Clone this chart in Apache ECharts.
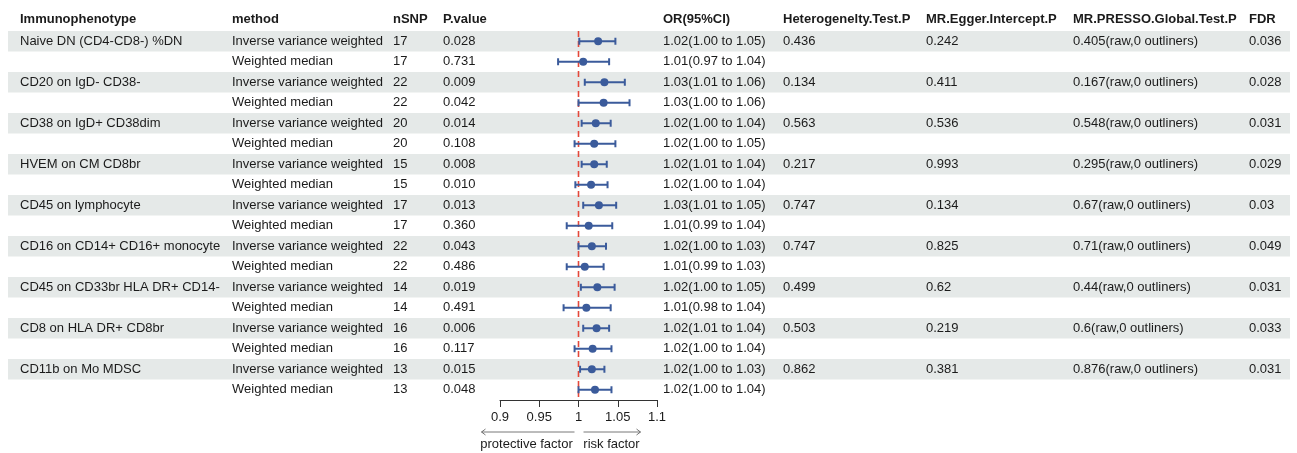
<!DOCTYPE html>
<html>
<head>
<meta charset="utf-8">
<title>MR forest plot</title>
<script src="https://cdn.jsdelivr.net/npm/echarts@6/dist/echarts.min.js"></script>
<style>
html, body { margin: 0; padding: 0; background: #fff; }
#chart { width: 1297px; height: 453px; }
</style>
</head>
<body>
<div id="chart"></div>
<script>
// 表头
const headers = ['Immunophenotype', 'method', 'nSNP', 'P.value', 'OR(95%CI)',
  'Heterogenelty.Test.P', 'MR.Egger.Intercept.P', 'MR.PRESSO.Global.Test.P', 'FDR']

// 每行数据（18 行，IVW / WM 交替）
const phenotypes = [
  'Naive DN (CD4-CD8-) %DN', '', 'CD20 on IgD- CD38-', '', 'CD38 on IgD+ CD38dim', '',
  'HVEM on CM CD8br', '', 'CD45 on lymphocyte', '', 'CD16 on CD14+ CD16+ monocyte', '',
  'CD45 on CD33br HLA DR+ CD14-', '', 'CD8 on HLA DR+ CD8br', '', 'CD11b on Mo MDSC', ''
]
const methods = Array.from({ length: 18 }, (_, i) => i % 2 === 0 ? 'Inverse variance weighted' : 'Weighted median')
const nSNP = ['17', '17', '22', '22', '20', '20', '15', '15', '17', '17', '22', '22', '14', '14', '16', '16', '13', '13']
const pValues = ['0.028', '0.731', '0.009', '0.042', '0.014', '0.108', '0.008', '0.010', '0.013', '0.360',
  '0.043', '0.486', '0.019', '0.491', '0.006', '0.117', '0.015', '0.048']
const orText = [
  '1.02(1.00 to 1.05)', '1.01(0.97 to 1.04)', '1.03(1.01 to 1.06)', '1.03(1.00 to 1.06)',
  '1.02(1.00 to 1.04)', '1.02(1.00 to 1.05)', '1.02(1.01 to 1.04)', '1.02(1.00 to 1.04)',
  '1.03(1.01 to 1.05)', '1.01(0.99 to 1.04)', '1.02(1.00 to 1.03)', '1.01(0.99 to 1.03)',
  '1.02(1.00 to 1.05)', '1.01(0.98 to 1.04)', '1.02(1.01 to 1.04)', '1.02(1.00 to 1.04)',
  '1.02(1.00 to 1.03)', '1.02(1.00 to 1.04)'
]
const heteroP = ['0.436', '', '0.134', '', '0.563', '', '0.217', '', '0.747', '', '0.747', '', '0.499', '', '0.503', '', '0.862', '']
const eggerP = ['0.242', '', '0.411', '', '0.536', '', '0.993', '', '0.134', '', '0.825', '', '0.62', '', '0.219', '', '0.381', '']
const pressoP = [
  '0.405(raw,0 outliners)', '', '0.167(raw,0 outliners)', '', '0.548(raw,0 outliners)', '',
  '0.295(raw,0 outliners)', '', '0.67(raw,0 outliners)', '', '0.71(raw,0 outliners)', '',
  '0.44(raw,0 outliners)', '', '0.6(raw,0 outliners)', '', '0.876(raw,0 outliners)', ''
]
const fdr = ['0.036', '', '0.028', '', '0.031', '', '0.029', '', '0.03', '', '0.049', '', '0.031', '', '0.033', '', '0.031', '']

// 森林图数值
const orValue = [1.025, 1.006, 1.033, 1.032, 1.022, 1.020, 1.020, 1.016, 1.026, 1.013, 1.017, 1.008, 1.024, 1.010, 1.023, 1.018, 1.017, 1.021]
const ciLow = [1.001, 0.974, 1.008, 1.000, 1.004, 0.995, 1.004, 0.996, 1.006, 0.985, 1.000, 0.985, 1.003, 0.981, 1.006, 0.995, 1.002, 1.000]
const ciHigh = [1.047, 1.039, 1.059, 1.065, 1.041, 1.047, 1.036, 1.037, 1.048, 1.043, 1.035, 1.032, 1.046, 1.041, 1.039, 1.042, 1.033, 1.042]
const nullOR = 1

// 布局
const columns = [phenotypes, methods, nSNP, pValues, orText, heteroP, eggerP, pressoP, fdr]
const colX = [20, 232, 393, 443, 663, 783, 926, 1073, 1249]
const FONT = 'Arial, "Liberation Sans", Helvetica, sans-serif'
const TEXT_COLOR = '#1b1b1b'
const BLUE = '#3b5b9b'
const rows = phenotypes.map((_, i) => 'r' + i)

const chart = echarts.init(document.getElementById('chart'))

function renderTable(params, api) {
  const i = api.value(1)
  const y = api.coord([0, i])[1]
  const h = api.size([0, 1])[1]
  const children = []
  if (i % 2 === 0) {
    const x0 = api.coord([8, i])[0]
    const x1 = api.coord([1290, i])[0]
    children.push({
      type: 'rect',
      shape: { x: x0, y: y - h / 2, width: x1 - x0, height: h },
      style: { fill: '#e5e9e8' }
    })
  }
  columns.forEach((col, c) => {
    if (!col[i]) return
    children.push({
      type: 'text',
      x: colX[c],
      y: y,
      style: {
        text: col[i], fill: TEXT_COLOR, fontSize: 13, fontFamily: FONT,
        align: 'left', verticalAlign: 'middle'
      }
    })
  })
  return { type: 'group', children }
}

function renderForest(params, api) {
  const row = api.value(3)
  const p = api.coord([api.value(0), row])
  const l = api.coord([api.value(1), row])
  const r = api.coord([api.value(2), row])
  const cap = 3.5
  const style = { stroke: BLUE, lineWidth: 2 }
  return {
    type: 'group',
    children: [
      { type: 'line', shape: { x1: l[0], y1: l[1], x2: r[0], y2: r[1] }, style },
      { type: 'line', shape: { x1: l[0], y1: l[1] - cap, x2: l[0], y2: l[1] + cap }, style },
      { type: 'line', shape: { x1: r[0], y1: r[1] - cap, x2: r[0], y2: r[1] + cap }, style },
      { type: 'circle', shape: { cx: p[0], cy: p[1], r: 4 }, style: { fill: BLUE } }
    ]
  }
}

// OR=1 参考虚线，贯穿整个绘图区
function renderNullLine(params, api) {
  const cs = params.coordSys
  const x = api.coord([api.value(0), 0])[0]
  return {
    type: 'line',
    shape: { x1: x, y1: cs.y, x2: x, y2: cs.y + cs.height },
    style: { stroke: '#e4483a', lineWidth: 1.6, lineDash: [6, 4] }
  }
}

const headerGraphics = headers.map((h, c) => ({
  type: 'text',
  x: colX[c],
  y: 19,
  style: {
    text: h, fill: TEXT_COLOR, fontSize: 13, fontWeight: 'bold', fontFamily: FONT,
    align: 'left', verticalAlign: 'middle'
  }
}))

const option = {
  animation: false,
  grid: [
    { left: 0, right: 0, top: 31, height: 369 },
    { left: 500, width: 157, top: 31, height: 369 }
  ],
  xAxis: [
    { gridIndex: 0, type: 'value', min: 0, max: 1297, show: false },
    {
      gridIndex: 1, type: 'value', min: 0.9, max: 1.1, interval: 0.05,
      splitLine: { show: false },
      axisLine: { show: true, lineStyle: { color: '#333', width: 1 } },
      axisTick: { show: true, length: 7, lineStyle: { color: '#333', width: 1 } },
      axisLabel: {
        color: TEXT_COLOR, fontSize: 13, fontFamily: FONT, margin: 11,
        formatter: v => String(Number(v.toFixed(2)))
      }
    }
  ],
  yAxis: [
    { gridIndex: 0, type: 'category', data: rows, inverse: true, show: false },
    { gridIndex: 1, type: 'category', data: rows, inverse: true, show: false }
  ],
  series: [
    {
      type: 'custom',
      xAxisIndex: 0, yAxisIndex: 0,
      z: 1,
      silent: true,
      renderItem: renderTable,
      encode: { x: 0, y: 1 },
      data: rows.map((_, i) => [0, i])
    },
    {
      type: 'custom',
      xAxisIndex: 1, yAxisIndex: 1,
      z: 4,
      silent: true,
      clip: false,
      renderItem: renderNullLine,
      encode: { x: 0, y: 1 },
      data: [[nullOR, 0]]
    },
    {
      type: 'custom',
      xAxisIndex: 1, yAxisIndex: 1,
      z: 5,
      silent: true,
      renderItem: renderForest,
      encode: { x: [0, 1, 2], y: 3 },
      data: rows.map((_, i) => [orValue[i], ciLow[i], ciHigh[i], i])
    }
  ],
  graphic: headerGraphics
}

chart.setOption(option)

// 底部箭头与说明，跟随坐标轴位置
const x1 = chart.convertToPixel({ xAxisIndex: 1 }, nullOR)
const arrowY = 432
const arrowStyle = { stroke: '#555', lineWidth: 0.8, fill: null }
chart.setOption({
  graphic: headerGraphics.concat([
    { type: 'line', shape: { x1: x1 - 4, y1: arrowY, x2: x1 - 97, y2: arrowY }, style: arrowStyle },
    { type: 'polyline', shape: { points: [[x1 - 93, arrowY - 3], [x1 - 97, arrowY], [x1 - 93, arrowY + 3]] }, style: arrowStyle },
    { type: 'line', shape: { x1: x1 + 5, y1: arrowY, x2: x1 + 62, y2: arrowY }, style: arrowStyle },
    { type: 'polyline', shape: { points: [[x1 + 58, arrowY - 3], [x1 + 62, arrowY], [x1 + 58, arrowY + 3]] }, style: arrowStyle },
    {
      type: 'text', x: x1 - 52, y: 444,
      style: { text: 'protective factor', fill: TEXT_COLOR, fontSize: 13, fontFamily: FONT, align: 'center', verticalAlign: 'middle' }
    },
    {
      type: 'text', x: x1 + 33, y: 444,
      style: { text: 'risk factor', fill: TEXT_COLOR, fontSize: 13, fontFamily: FONT, align: 'center', verticalAlign: 'middle' }
    }
  ])
})

window.addEventListener('resize', () => chart.resize())
</script>
</body>
</html>
